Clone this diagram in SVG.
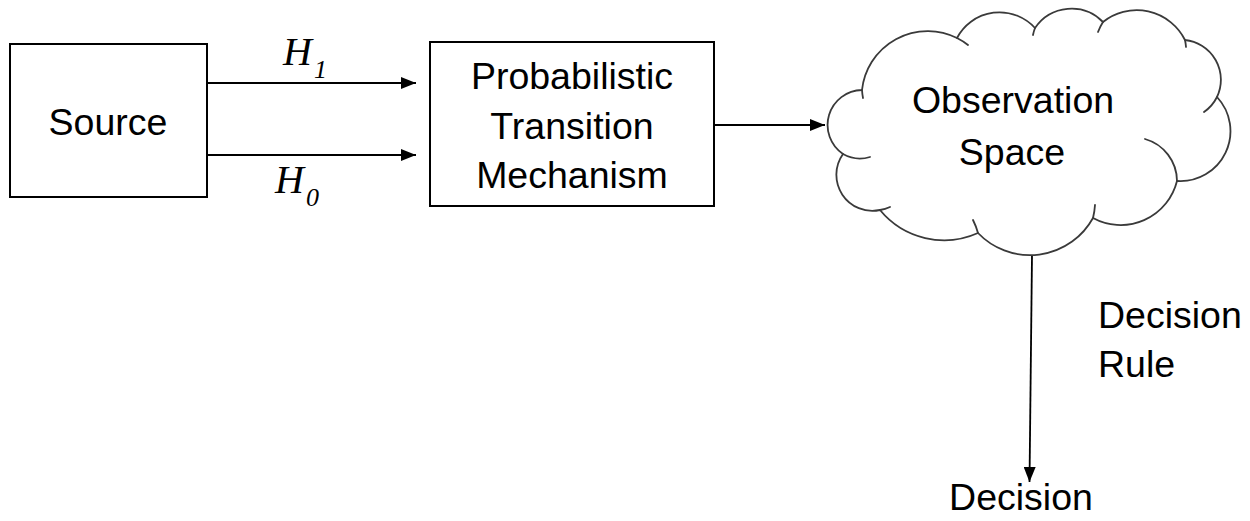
<svg xmlns="http://www.w3.org/2000/svg" width="1250" height="521" viewBox="0 0 1250 521">
  <style>
    .box { fill: #ffffff; stroke: #000000; stroke-width: 2; }
    .cloud { fill: #ffffff; stroke: #3a3a3a; stroke-width: 1.8; stroke-linejoin: round; }
    .curl { fill: none; stroke: #3a3a3a; stroke-width: 1.8; stroke-linecap: round; }
    .edge { fill: none; stroke: #000000; stroke-width: 1.8; }
    .lbl { font-family: "Liberation Sans", Arial, sans-serif; font-size: 37.5px; fill: #000000; }
    .mid { text-anchor: middle; }
    .hyp { font-family: "Liberation Serif", "Times New Roman", serif; font-style: italic; font-size: 40px; fill: #000000; }
    .sub { font-size: 26px; }
  </style>
  <defs>
    <marker id="arrow" markerWidth="15" markerHeight="12" refX="15" refY="6" orient="auto" markerUnits="userSpaceOnUse">
      <path d="M0,0 L15,6 L0,12 Z" fill="#000000"/>
    </marker>
  </defs>

  <rect width="1250" height="521" fill="#ffffff"/>

  <!-- connectors -->
  <g id="connectors">
    <line class="edge" x1="207" y1="83" x2="416" y2="83" marker-end="url(#arrow)"/>
    <line class="edge" x1="207" y1="155" x2="416" y2="155" marker-end="url(#arrow)"/>
    <line class="edge" x1="714" y1="125" x2="825" y2="125" marker-end="url(#arrow)"/>
    <line class="edge" x1="1032" y1="255" x2="1029.5" y2="482" marker-end="url(#arrow)"/>
    <text class="hyp" x="283" y="65">H<tspan class="sub" dx="2" dy="13">1</tspan></text>
    <text class="hyp" x="275" y="193">H<tspan class="sub" dx="2" dy="13">0</tspan></text>
    <text class="lbl" x="1098" y="328">Decision</text>
    <text class="lbl" x="1098" y="377">Rule</text>
  </g>

  <!-- source node -->
  <g id="source">
    <rect class="box" x="10" y="44" width="197" height="153"/>
    <text class="lbl mid" x="108" y="135">Source</text>
  </g>

  <!-- transition mechanism node -->
  <g id="transition">
    <rect class="box" x="430" y="42" width="284" height="164"/>
    <text class="lbl mid" x="572" y="89">Probabilistic</text>
    <text class="lbl mid" x="572" y="139">Transition</text>
    <text class="lbl mid" x="572" y="188">Mechanism</text>
  </g>

  <!-- observation space cloud: outer outline of arcs, then the small inner curls -->
  <g id="observation">
    <path class="cloud" d="M862,90
      A66,66 0 0 1 957,38
      A48,48 0 0 1 1035,28
      A44,44 0 0 1 1103,22
      A54,54 0 0 1 1185,40
      A40,40 0 0 1 1217,97
      A50,50 0 0 1 1177,181
      A58,58 0 0 1 1093,218
      A72,72 0 0 1 978,233
      A83,83 0 0 1 880,210
      A36,36 0 0 1 843,154
      A35,35 0 0 1 862,90 Z"/>
    <path class="curl" d="M862,90 A66,66 0 0 0 863,98
      M957,38 A66,66 0 0 1 968,45
      M1035,28 A44,44 0 0 0 1033,35
      M1103,22 A54,54 0 0 0 1098,32
      M1185,40 A54,54 0 0 1 1186,47
      M1217,97 A40,40 0 0 1 1204,112
      M1145,139 A44,44 0 0 1 1177,181
      M1093,218 A72,72 0 0 0 1095,205
      M978,233 A72,72 0 0 0 973,220
      M880,210 A36,36 0 0 0 890,207
      M843,154 A35,35 0 0 0 870,157"/>
    <text class="lbl mid" x="1013" y="113">Observation</text>
    <text class="lbl mid" x="1012" y="165">Space</text>
  </g>

  <!-- decision node -->
  <g id="decision">
    <text class="lbl mid" x="1021" y="510">Decision</text>
  </g>
</svg>
